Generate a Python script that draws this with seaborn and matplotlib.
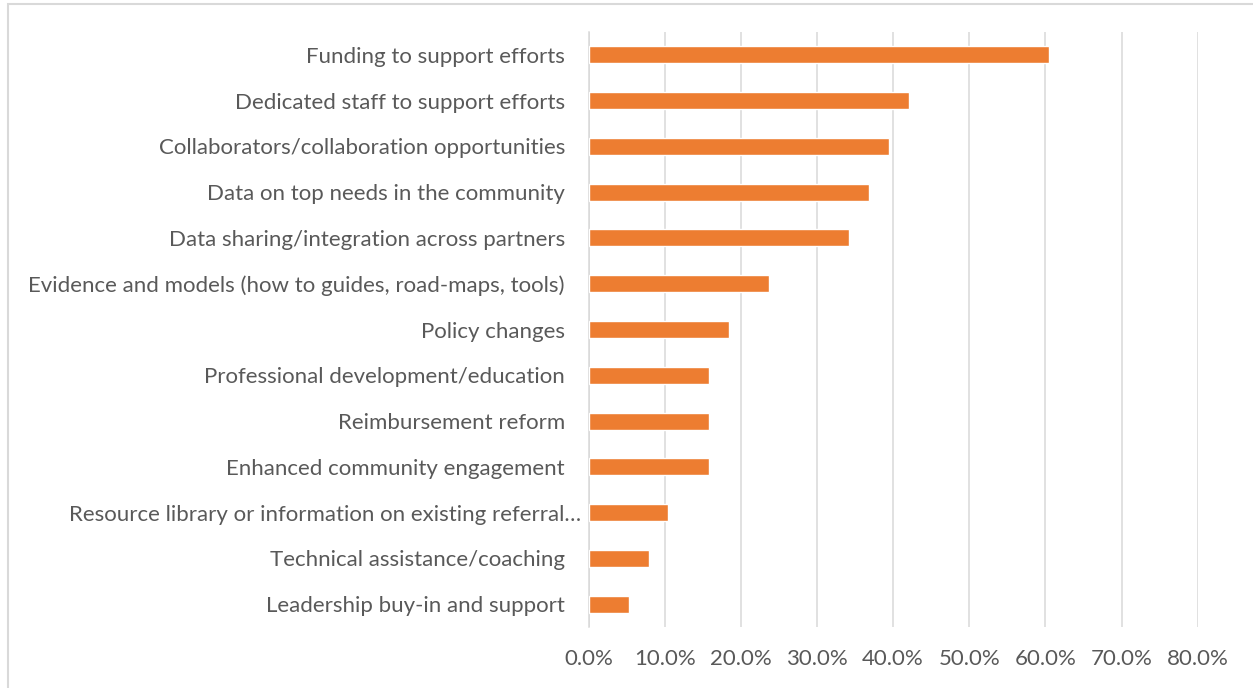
import matplotlib
matplotlib.use("Agg")
import matplotlib.pyplot as plt
import matplotlib.transforms as mtransforms
from matplotlib.patches import Rectangle
from matplotlib.ticker import PercentFormatter
import seaborn as sns
import pandas as pd

categories = [
    "Funding to support efforts",
    "Dedicated staff to support efforts",
    "Collaborators/collaboration opportunities",
    "Data on top needs in the community",
    "Data sharing/integration across partners",
    "Evidence and models (how to guides, road-maps, tools)",
    "Policy changes",
    "Professional development/education",
    "Reimbursement reform",
    "Enhanced community engagement",
    "Resource library or information on existing referral…",
    "Technical assistance/coaching",
    "Leadership buy-in and support",
]
shares = [0.605, 0.421, 0.395, 0.368, 0.342, 0.237, 0.184,
          0.158, 0.158, 0.158, 0.105, 0.079, 0.053]
x_ticks = [0.0, 0.1, 0.2, 0.3, 0.4, 0.5, 0.6, 0.7, 0.8]

df = pd.DataFrame({"need": categories, "share": shares})

sns.set_theme(style="white")
plt.rcParams["font.family"] = ["Lato", "DejaVu Sans"]

W, H = 1253, 688
fig = plt.figure(figsize=(W / 100, H / 100), dpi=100)
fig.patch.set_facecolor("white")

left, right, top, bottom = 588.5, 1197.7, 32, 627
ax = fig.add_axes([left / W, 1 - bottom / H, (right - left) / W, (bottom - top) / H])

sns.barplot(data=df, x="share", y="need", color="#ED7D31", width=0.37,
            saturation=1, ax=ax, zorder=3)

ax.set_xlim(x_ticks[0], x_ticks[-1])
ax.set_xticks(x_ticks)
ax.xaxis.set_major_formatter(PercentFormatter(1.0, decimals=1))
ax.grid(axis="x", color="#D9D9D9", linewidth=1.1, zorder=0)
ax.set_axisbelow(True)
for side in ("top", "right", "bottom"):
    ax.spines[side].set_visible(False)
ax.spines["left"].set_color("#D9D9D9")
ax.spines["left"].set_linewidth(1.1)
ax.set_xlabel("")
ax.set_ylabel("")

label_color = "#595959"
ax.tick_params(axis="y", length=0, pad=17, labelsize=16, labelcolor=label_color)
ax.tick_params(axis="x", length=0, pad=16, labelsize=16, labelcolor=label_color)

# the truncated label sits a little further right, next to the axis
for lbl in ax.get_yticklabels():
    if lbl.get_text().endswith("…"):
        lbl.set_transform(lbl.get_transform() +
                          mtransforms.ScaledTranslation(16 / 100, 0, fig.dpi_scale_trans))

# light chart-area border
fig.patches.append(Rectangle((8 / W, -0.1), 1.2, 1 - 4 / H + 0.1,
                             transform=fig.transFigure, fill=False,
                             edgecolor="#D9D9D9", linewidth=1.5))

fig.savefig("out.png", dpi=100, facecolor="white")
